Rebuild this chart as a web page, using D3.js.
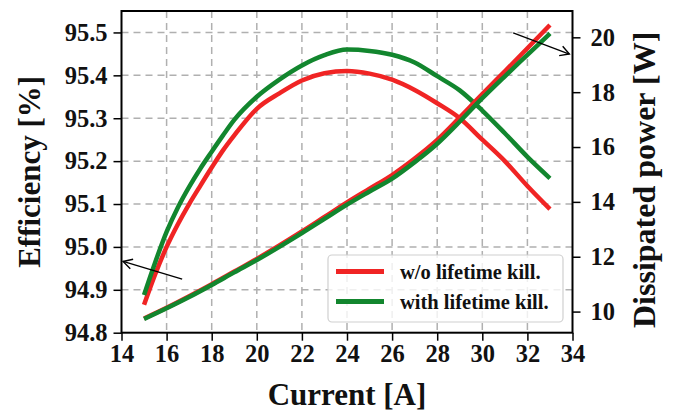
<!DOCTYPE html>
<html>
<head>
<meta charset="utf-8">
<script src="https://cdn.jsdelivr.net/npm/d3@7"></script>
<style>
    body { margin: 0; background: #fff; }
    text { font-family: "Liberation Serif", "Times New Roman", serif; font-weight: bold; fill: #111; }
</style>
</head>
<body>
<div id="chart_location"></div>
<script>
// current [A] sample points
var currentEff = [15, 15.5, 16, 16.5, 17, 17.5, 18, 18.5, 19, 20, 21, 22, 23, 24, 25, 26, 27, 28, 29, 30, 31, 32, 33];
var effWithout = [94.865, 94.937, 95.0, 95.053, 95.1, 95.143, 95.185, 95.225, 95.26, 95.322, 95.358, 95.388, 95.405, 95.41, 95.404, 95.39, 95.366, 95.335, 95.3, 95.25, 95.2, 95.142, 95.088];
var effWith = [94.888, 94.965, 95.035, 95.092, 95.14, 95.183, 95.222, 95.26, 95.296, 95.35, 95.39, 95.423, 95.447, 95.46, 95.457, 95.448, 95.43, 95.398, 95.365, 95.318, 95.265, 95.21, 95.16];

var currentPow = [15, 16, 17, 18, 19, 20, 21, 22, 23, 24, 25, 26, 27, 28, 29, 30, 31, 32, 33];
var powWithout = [9.75, 10.14, 10.56, 11.0, 11.46, 11.92, 12.41, 12.92, 13.45, 13.98, 14.48, 14.98, 15.58, 16.26, 17.08, 17.93, 18.76, 19.6, 20.45];
var powWith = [9.73, 10.12, 10.53, 10.97, 11.43, 11.88, 12.36, 12.86, 13.38, 13.9, 14.38, 14.85, 15.45, 16.12, 16.93, 17.78, 18.58, 19.36, 20.14];

var xTicks = [14, 16, 18, 20, 22, 24, 26, 28, 30, 32, 34];
var effTicks = [94.8, 94.9, 95.0, 95.1, 95.2, 95.3, 95.4, 95.5];
var powTicks = [10, 12, 14, 16, 18, 20];

var seriesNames = ["w/o lifetime kill.", "with lifetime kill."];
var seriesColors = ["#f02424", "#12862e"];

// annotation arrows in data coordinates: [tailI, tailV, headI, headV, axis]
var arrows = [
    [16.69, 94.925, 14.07, 94.966, "eff"],
    [31.37, 20.16, 33.86, 19.39, "pow"]
];

var W = 673, H = 414;
var margin = { top: 11, right: 100.5, bottom: 81.3, left: 121.5 };
var width = W - margin.left - margin.right,
    height = H - margin.top - margin.bottom;

var svg = d3.select("#chart_location").append("svg")
    .attr("width", W).attr("height", H);

var g = svg.append("g").attr("transform", "translate(" + margin.left + "," + margin.top + ")");

var x = d3.scaleLinear().domain([14, 34]).range([0, width]);
var yL = d3.scaleLinear().domain([94.8, 95.55]).range([height, 0]);
var yR = d3.scaleLinear().domain([9.23, 20.96]).range([height, 0]);

// grid
g.append("g").selectAll("line").data(xTicks.slice(1, -1)).enter().append("line")
    .attr("x1", function(d) { return x(d); }).attr("x2", function(d) { return x(d); })
    .attr("y1", 0).attr("y2", height)
    .attr("stroke", "#b0b0b0").attr("stroke-width", 1.5).attr("stroke-dasharray", "7,5");
g.append("g").selectAll("line").data(effTicks.slice(1)).enter().append("line")
    .attr("y1", function(d) { return yL(d); }).attr("y2", function(d) { return yL(d); })
    .attr("x1", 0).attr("x2", width)
    .attr("stroke", "#b0b0b0").attr("stroke-width", 1.5).attr("stroke-dasharray", "7,5");

// lines
var effData = [effWithout, effWith];
var powData = [powWithout, powWith];

var lineEff = d3.line()
    .x(function(d, i) { return x(currentEff[i]); })
    .y(function(d) { return yL(d); })
    .curve(d3.curveMonotoneX);
var linePow = d3.line()
    .x(function(d, i) { return x(currentPow[i]); })
    .y(function(d) { return yR(d); })
    .curve(d3.curveMonotoneX);

effData.forEach(function(s, i) {
    g.append("path").datum(s)
        .attr("d", lineEff)
        .attr("fill", "none")
        .attr("stroke", seriesColors[i])
        .attr("stroke-width", 4.5)
        .attr("stroke-linejoin", "round");
});
powData.forEach(function(s, i) {
    g.append("path").datum(s)
        .attr("d", linePow)
        .attr("fill", "none")
        .attr("stroke", seriesColors[i])
        .attr("stroke-width", 4.5)
        .attr("stroke-linejoin", "round");
});

// axes
var xAxis = g.append("g").attr("transform", "translate(0," + height + ")")
    .call(d3.axisBottom(x).tickValues(xTicks).tickFormat(d3.format("d")).tickSize(8).tickPadding(4));
var yAxisL = g.append("g")
    .call(d3.axisLeft(yL).tickValues(effTicks).tickFormat(d3.format(".1f")).tickSize(8).tickPadding(6));
var yAxisR = g.append("g").attr("transform", "translate(" + width + ",0)")
    .call(d3.axisRight(yR).tickValues(powTicks).tickFormat(d3.format("d")).tickSize(8).tickPadding(10));

[xAxis, yAxisL, yAxisR].forEach(function(a) {
    a.attr("font-family", null);
    a.select(".domain").remove();
    a.selectAll(".tick line").attr("stroke", "#000").attr("stroke-width", 1.5);
    a.selectAll(".tick text")
        .style("font-family", "'Liberation Serif', serif")
        .style("font-weight", "bold")
        .style("font-size", "24.5px")
        .attr("fill", "#111");
});

// frame
g.append("rect").attr("x", 0).attr("y", 0).attr("width", width).attr("height", height)
    .attr("fill", "none").attr("stroke", "#000").attr("stroke-width", 2);

// arrows
var defs = svg.append("defs");
defs.append("marker").attr("id", "head")
    .attr("viewBox", "-10 -6 12 12").attr("markerWidth", 12).attr("markerHeight", 12)
    .attr("markerUnits", "userSpaceOnUse").attr("orient", "auto")
    .append("path").attr("d", "M-9,-5 L0,0 L-9,5").attr("fill", "none")
    .attr("stroke", "#000").attr("stroke-width", 1.4);

arrows.forEach(function(a) {
    var ys = a[4] == "eff" ? yL : yR;
    g.append("line")
        .attr("x1", x(a[0])).attr("y1", ys(a[1]))
        .attr("x2", x(a[2])).attr("y2", ys(a[3]))
        .attr("stroke", "#000").attr("stroke-width", 1.3)
        .attr("marker-end", "url(#head)");
});

// legend
var lg = svg.append("g");
lg.append("rect").attr("x", 328).attr("y", 255).attr("width", 235).attr("height", 67)
    .attr("rx", 4).attr("fill", "#fff").attr("fill-opacity", 0.8)
    .attr("stroke", "#d0d0d0").attr("stroke-width", 1.2);
seriesNames.forEach(function(n, i) {
    var yy = 271.5 + i * 30;
    lg.append("line").attr("x1", 336).attr("x2", 384).attr("y1", yy).attr("y2", yy)
        .attr("stroke", seriesColors[i]).attr("stroke-width", 5);
    lg.append("text").attr("x", 400).attr("y", yy + 7).attr("font-size", 20.5).text(n);
});

// axis labels
svg.append("text").attr("x", margin.left + width / 2).attr("y", 405)
    .attr("text-anchor", "middle").attr("font-size", 31).text("Current [A]");
svg.append("text").attr("transform", "translate(40," + (margin.top + height / 2) + ") rotate(-90)")
    .attr("text-anchor", "middle").attr("font-size", 31).text("Efficiency [%]");
svg.append("text").attr("transform", "translate(655," + (margin.top + height / 2 + 8) + ") rotate(-90)")
    .attr("text-anchor", "middle").attr("font-size", 32).text("Dissipated power [W]");
</script>
</body>
</html>
